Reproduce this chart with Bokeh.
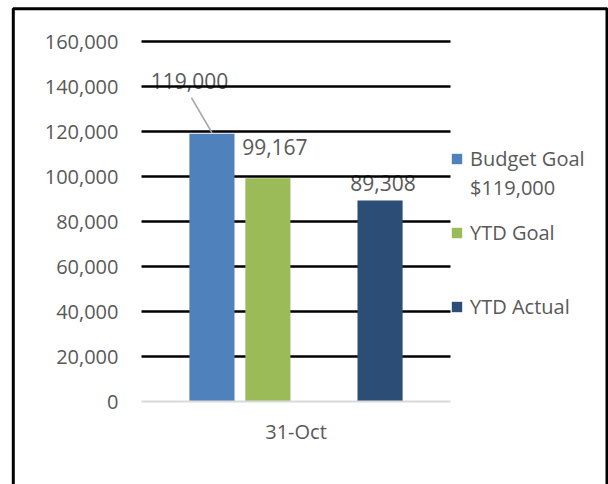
from bokeh.plotting import figure
from bokeh.models import (ColumnDataSource, FixedTicker, NumeralTickFormatter,
                          Legend, LegendItem, BoxAnnotation, Range1d)
from bokeh.core.properties import value
from bokeh.embed import file_html
from bokeh.resources import INLINE

# ---- data ----
category = ["31-Oct"]
series_names = ["Budget Goal\n$119,000", "YTD Goal", "YTD Actual"]
budget_goal = [119000]
ytd_goal = [99167]
ytd_actual = [89308]
y_ticks = [0, 20000, 40000, 60000, 80000, 100000, 120000, 140000, 160000]

# ---- styles / layout ----
W, H = 608, 484
FONT = "Open Sans"
TEXT_COLOR = "#595959"
COLORS = ["#4F81BD", "#9BBB59", "#2C4D75"]
OFFSETS = [-0.272, -0.091, 0.272]          # slot offsets inside a category (category = 1 unit)
BAR_W = 0.146
LABEL_OFFSETS = [(-22.5, -52.5), (7, -31), (3, -17.6)]   # px from bar top-centre
PLOT_LEFT, PLOT_RIGHT = 141, 450          # px, plot area
PLOT_TOP, PLOT_BOTTOM = 41, 401
LEGEND_VY = [283.5, 238, 164]             # px from canvas bottom

cat_px = (PLOT_RIGHT - PLOT_LEFT)                  # px per category unit
val_per_px = (y_ticks[-1] - y_ticks[0]) / (PLOT_BOTTOM - PLOT_TOP)

x_range = Range1d(-PLOT_LEFT / cat_px, (W - PLOT_LEFT) / cat_px)
y_range = Range1d(y_ticks[0] - (H - PLOT_BOTTOM) * val_per_px,
                  y_ticks[0] + PLOT_BOTTOM * val_per_px)

p = figure(width=W, height=H, x_range=x_range, y_range=y_range,
           output_backend="svg", toolbar_location=None, min_border=0)
p.outline_line_color = None
p.background_fill_color = "white"
p.border_fill_color = "white"

cat_pos = [i + 0.5 for i in range(len(category))]

series = [budget_goal, ytd_goal, ytd_actual]
bar_renderers = []
for vals, color, off, (dx, dy) in zip(series, COLORS, OFFSETS, LABEL_OFFSETS):
    src = ColumnDataSource(dict(x=[c + off for c in cat_pos], val=vals,
                                label=[f"{v:,}" for v in vals]))
    r = p.vbar(x="x", top="val", width=BAR_W, source=src, fill_color=color, line_color=None)
    bar_renderers.append(r)
    p.text(x="x", y="val", text="label", source=src,
           x_offset=dx, y_offset=dy, text_align="center", text_baseline="middle",
           text_font=value(FONT), text_font_size="21px", text_color=TEXT_COLOR,
           level="underlay")

# leader line for the moved Budget Goal label
lead_src = ColumnDataSource(dict(
    x0=[c + OFFSETS[0] - 20.5 / cat_px for c in cat_pos],
    x1=[c + OFFSETS[0] for c in cat_pos],
    y0=[v + 36 * val_per_px for v in budget_goal],
    y1=[v + 1 * val_per_px for v in budget_goal]))
p.segment(x0="x0", y0="y0", x1="x1", y1="y1", source=lead_src,
          line_color="#a6a6a6", line_width=1.5)

# axes (fixed inside the frame)
p.yaxis.fixed_location = 0
p.yaxis.ticker = FixedTicker(ticks=y_ticks)
p.yaxis.formatter = NumeralTickFormatter(format="0,0")
p.yaxis.axis_line_color = None
p.yaxis.major_tick_line_color = None
p.yaxis.minor_tick_line_color = None
p.yaxis.major_tick_out = 0
p.yaxis.major_tick_in = 0
p.yaxis.major_label_standoff = 23
p.yaxis.major_label_text_font = FONT
p.yaxis.major_label_text_font_size = "20px"
p.yaxis.major_label_text_color = TEXT_COLOR

p.xaxis.fixed_location = y_ticks[0]
p.xaxis.bounds = (0, len(category))
p.xaxis.ticker = FixedTicker(ticks=cat_pos)
p.xaxis.major_label_overrides = {c: name for c, name in zip(cat_pos, category)}
p.xaxis.axis_line_color = "#d9d9d9"
p.xaxis.axis_line_width = 2
p.xaxis.major_tick_line_color = None
p.xaxis.minor_tick_line_color = None
p.xaxis.major_tick_out = 0
p.xaxis.major_tick_in = 0
p.xaxis.major_label_standoff = 16
p.xaxis.major_label_text_font = FONT
p.xaxis.major_label_text_font_size = "20px"
p.xaxis.major_label_text_color = TEXT_COLOR

p.xgrid.grid_line_color = None
p.ygrid.ticker = FixedTicker(ticks=y_ticks[1:])
p.ygrid.cross_bounds = (0, len(category))
p.ygrid.grid_line_color = "black"
p.ygrid.grid_line_width = 2.5

# invisible renderer used for the legend's wrapped second line
blank = p.vbar(x=[], top=[], width=BAR_W, fill_alpha=0, line_alpha=0)

# legends
for r, name, vy in zip(bar_renderers, series_names, LEGEND_VY):
    lines = name.split("\n")
    items = [LegendItem(label=lines[0], renderers=[r])]
    items += [LegendItem(label=ln, renderers=[blank]) for ln in lines[1:]]
    lg = Legend(items=items, location=(PLOT_RIGHT, vy),
                padding=0, margin=0, spacing=2, border_line_color=None,
                background_fill_alpha=0, glyph_width=13, glyph_height=13, label_standoff=7,
                label_text_font=FONT, label_text_font_size="20px",
                label_text_color=TEXT_COLOR)
    p.add_layout(lg, "center")

# outer frame
p.add_layout(BoxAnnotation(left=12.8, right=606.5, top=8.3, bottom=495,
                           left_units="canvas", right_units="canvas",
                           top_units="canvas", bottom_units="canvas",
                           fill_color=None, line_color="black", line_alpha=1.0,
                           line_width=3, level="overlay"))

open("out.html", "w").write(file_html(p, INLINE))
